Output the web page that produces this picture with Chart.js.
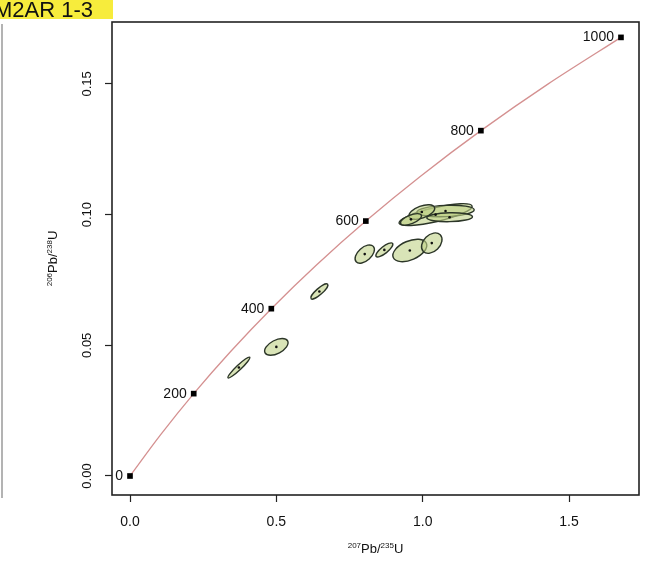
<!DOCTYPE html>
<html>
<head>
<meta charset="utf-8">
<script src="https://cdn.jsdelivr.net/npm/chart.js@4.4.1/dist/chart.umd.min.js"></script>
<style>
  html, body { margin: 0; padding: 0; background: #fff; }
  #wrap { position: relative; width: 647px; height: 562px; }
</style>
</head>
<body>
<div id="wrap"><canvas id="chartConcordia" width="647" height="562"></canvas></div>
<script>
/* Concordia M2AR 1-3 */
const sampleLabel = 'M2AR 1-3';

// concordia curve (age in Ma)
const concAges = [0, 100, 200, 300, 400, 500, 600, 700, 800, 900, 1000];
const concX = [0, 0.1035, 0.2177, 0.3438, 0.4828, 0.6362, 0.8057, 0.9926, 1.1988, 1.4264, 1.6774];
const concY = [0, 0.01563, 0.03151, 0.04764, 0.06402, 0.08065, 0.09754, 0.11470, 0.13213, 0.14983, 0.16781];
const markerAges = [0, 200, 400, 600, 800, 1000];

const xTicks = [0, 0.5, 1.0, 1.5];
const yTicks = [0, 0.05, 0.10, 0.15];

// analyses: 207Pb/235U, 206Pb/238U, half extent x, half extent y, rho
const ellX = [0.372, 0.500, 0.647, 0.802, 0.869, 0.956, 1.031, 1.044, 1.078, 1.092, 0.997, 0.960];
const ellY = [0.0415, 0.0494, 0.0706, 0.0849, 0.0865, 0.0863, 0.0891, 0.1000, 0.1014, 0.0990, 0.1010, 0.0982];
const ellSx = [0.0375, 0.0400, 0.029, 0.033, 0.029, 0.058, 0.035, 0.125, 0.098, 0.078, 0.044, 0.036];
const ellSy = [0.0040, 0.0032, 0.0029, 0.0035, 0.0027, 0.0043, 0.0039, 0.0042, 0.0022, 0.0017, 0.0028, 0.0022];
const ellRho = [0.95, 0.5, 0.85, 0.5, 0.8, 0.45, 0.35, 0.75, 0.2, 0.1, 0.5, 0.6];

const FONT = 'Arial, "Liberation Sans", sans-serif';

const errorEllipses = {
  id: 'errorEllipses',
  beforeDatasetsDraw(chart) {
    const { ctx, chartArea, scales: { x, y } } = chart;
    ctx.save();
    ctx.beginPath();
    ctx.rect(chartArea.left, chartArea.top, chartArea.right - chartArea.left, chartArea.bottom - chartArea.top);
    ctx.clip();
    for (let i in ellX) {
      const cx = x.getPixelForValue(ellX[i]);
      const cy = y.getPixelForValue(ellY[i]);
      const px = Math.abs(x.getPixelForValue(ellX[i] + ellSx[i]) - cx);
      const py = Math.abs(y.getPixelForValue(ellY[i] + ellSy[i]) - cy);
      const a = px * px, c = py * py, b = -ellRho[i] * px * py;
      const m = (a + c) / 2, d = Math.sqrt(((a - c) / 2) ** 2 + b * b);
      const r1 = Math.sqrt(m + d), r2 = Math.sqrt(Math.max(m - d, 0.5));
      const ang = 0.5 * Math.atan2(2 * b, a - c);
      ctx.beginPath();
      ctx.ellipse(cx, cy, r1, r2, ang, 0, 2 * Math.PI);
      ctx.fillStyle = 'rgba(192,210,135,0.6)';
      ctx.fill();
      ctx.lineWidth = 1.4;
      ctx.strokeStyle = '#2c3628';
      ctx.stroke();
    }
    ctx.restore();
  },
};

// superscript pieces: [text, isSup]
drawPieces = (ctx, pieces, size, supSize) => {
  let w = 0;
  for (const p of pieces) {
    ctx.font = (p[1] ? supSize : size) + 'px ' + FONT;
    w += ctx.measureText(p[0]).width;
  }
  let pos = -w / 2;
  ctx.textAlign = 'left';
  ctx.textBaseline = 'alphabetic';
  for (const p of pieces) {
    ctx.font = (p[1] ? supSize : size) + 'px ' + FONT;
    ctx.fillText(p[0], pos, p[1] ? -size * 0.42 : 0);
    pos += ctx.measureText(p[0]).width;
  }
};

const decorations = {
  id: 'decorations',
  afterDraw(chart) {
    const { ctx, chartArea, scales: { x, y } } = chart;
    ctx.save();

    // frame
    ctx.strokeStyle = '#222';
    ctx.lineWidth = 1.6;
    ctx.strokeRect(chartArea.left, chartArea.top, chartArea.right - chartArea.left, chartArea.bottom - chartArea.top);

    // y tick labels (rotated)
    ctx.fillStyle = '#111';
    ctx.font = '13px ' + FONT;
    for (const v of yTicks) {
      ctx.save();
      ctx.translate(87, y.getPixelForValue(v));
      ctx.rotate(-Math.PI / 2);
      ctx.textAlign = 'center';
      ctx.textBaseline = 'middle';
      ctx.fillText(v.toFixed(2), 0, 0);
      ctx.restore();
    }

    // axis titles
    ctx.save();
    ctx.translate(57, (chartArea.top + chartArea.bottom) / 2);
    ctx.rotate(-Math.PI / 2);
    drawPieces(ctx, [['206', true], ['Pb/', false], ['238', true], ['U', false]], 13, 8);
    ctx.restore();

    ctx.save();
    ctx.translate((chartArea.left + chartArea.right) / 2, 553);
    drawPieces(ctx, [['207', true], ['Pb/', false], ['235', true], ['U', false]], 13, 8);
    ctx.restore();

    // age labels
    ctx.font = '14px ' + FONT;
    ctx.textAlign = 'right';
    ctx.textBaseline = 'middle';
    for (const age of markerAges) {
      const i = concAges.indexOf(age);
      ctx.fillText(String(age), x.getPixelForValue(concX[i]) - 7, y.getPixelForValue(concY[i]));
    }

    // sample header
    ctx.fillStyle = '#f7ec3c';
    ctx.fillRect(0, 0, 113, 19);
    ctx.fillStyle = '#111';
    ctx.font = '22px ' + FONT;
    ctx.textAlign = 'left';
    ctx.textBaseline = 'alphabetic';
    ctx.fillText(sampleLabel, -6, 17);

    // neighbouring panel edge
    ctx.strokeStyle = '#9a9a9a';
    ctx.lineWidth = 1.5;
    ctx.beginPath();
    ctx.moveTo(2, 24);
    ctx.lineTo(2, 498);
    ctx.stroke();

    ctx.restore();
  },
};

const ctx = document.getElementById('chartConcordia').getContext('2d');
const chartConcordia = new Chart(ctx, {
  type: 'scatter',
  data: {
    datasets: [
      {
        type: 'line',
        order: 3,
        data: concX.map((v, i) => ({ x: v, y: concY[i] })),
        borderColor: 'rgba(205,125,125,0.85)',
        borderWidth: 1.3,
        pointRadius: 0,
        tension: 0.3,
        fill: false,
      },
      {
        order: 1,
        data: markerAges.map((a) => {
          const i = concAges.indexOf(a);
          return { x: concX[i], y: concY[i] };
        }),
        pointStyle: 'rect',
        pointRadius: 4,
        backgroundColor: '#000',
        borderWidth: 0,
      },
      {
        order: 0,
        data: ellX.map((v, i) => ({ x: v, y: ellY[i] })),
        pointRadius: 1.3,
        backgroundColor: '#111',
        borderWidth: 0,
      },
    ],
  },
  options: {
    responsive: false,
    devicePixelRatio: 1,
    animation: false,
    layout: { padding: { top: 22, right: 8, left: 0, bottom: 0 } },
    scales: {
      x: {
        type: 'linear',
        min: -0.0615,
        max: 1.739,
        afterBuildTicks: (scale) => {
          scale.ticks = xTicks.map((v) => ({ value: v }));
        },
        afterFit: (scale) => {
          scale.height = 67;
        },
        ticks: {
          callback: (v) => v.toFixed(1),
          font: { size: 14, family: FONT },
          color: '#111',
          padding: 12,
          maxRotation: 0,
        },
        grid: { drawOnChartArea: false, tickLength: 7, color: '#222', tickWidth: 1.2 },
        border: { display: false },
      },
      y: {
        type: 'linear',
        min: -0.00727,
        max: 0.1737,
        afterBuildTicks: (scale) => {
          scale.ticks = yTicks.map((v) => ({ value: v }));
        },
        afterFit: (scale) => {
          scale.width = 112;
        },
        ticks: { display: false },
        grid: { drawOnChartArea: false, tickLength: 7, color: '#222', tickWidth: 1.2 },
        border: { display: false },
      },
    },
    plugins: {
      legend: { display: false },
      tooltip: { enabled: false },
    },
  },
  plugins: [errorEllipses, decorations],
});
</script>
</body>
</html>
